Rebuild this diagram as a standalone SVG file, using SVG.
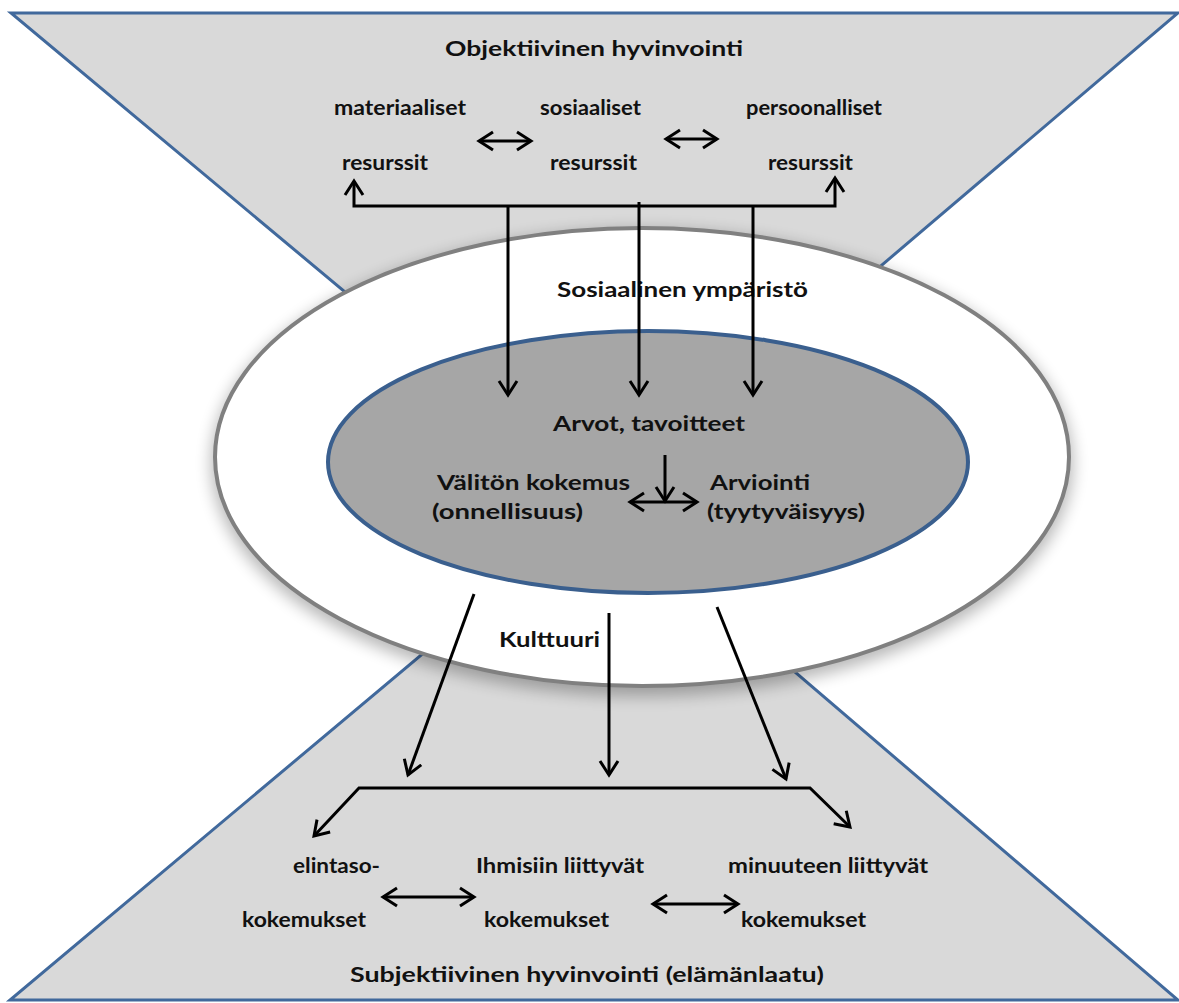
<svg xmlns="http://www.w3.org/2000/svg" width="1179" height="1003" viewBox="0 0 1179 1003">
<style>
.t{font-family:Lato,"Open Sans","Liberation Sans",sans-serif;font-weight:bold;font-size:21px;fill:#111}
.c{stroke:#000;stroke-width:3;fill:none}
.tri{fill:#d9d9d9;stroke:#41699c;stroke-width:3;stroke-linejoin:miter}
</style>
<defs>
<marker id="ah" markerUnits="userSpaceOnUse" markerWidth="18" markerHeight="22" viewBox="0 0 18 22" refX="15" refY="11" orient="auto-start-reverse">
<path d="M1,2 L15,11 L1,20" fill="none" stroke="#000" stroke-width="3"/>
</marker>
<filter id="sh" x="-20%" y="-20%" width="140%" height="140%">
<feGaussianBlur stdDeviation="8"/>
</filter>
</defs>

<g id="objective-region">
<polygon class="tri" points="11,13 1178,13 600,505"/>
<text class="t" x="445" y="56" textLength="298" lengthAdjust="spacingAndGlyphs">Objektiivinen hyvinvointi</text>
</g>
<g id="subjective-region">
<polygon class="tri" points="10,1000 1178,1000 600,505"/>
</g>

<g id="social-environment">
<ellipse cx="642" cy="463" rx="431" ry="233" fill="#000" opacity="0.28" filter="url(#sh)"/>
<ellipse cx="642" cy="457" rx="427" ry="229" fill="#fff" stroke="#808080" stroke-width="4"/>
<text class="t" x="557" y="297" textLength="251" lengthAdjust="spacingAndGlyphs">Sosiaalinen ympäristö</text>
<text class="t" x="499" y="647" textLength="101" lengthAdjust="spacingAndGlyphs">Kulttuuri</text>
</g>

<g id="values-goals">
<ellipse cx="648" cy="462" rx="320" ry="131" fill="#a6a6a6" stroke="#3a5f8e" stroke-width="4"/>
<text class="t" x="553" y="431" textLength="192" lengthAdjust="spacingAndGlyphs">Arvot, tavoitteet</text>
</g>
<g id="immediate-experience">
<text class="t" x="437" y="490" textLength="193" lengthAdjust="spacingAndGlyphs">Välitön kokemus</text>
<text class="t" x="432" y="519" textLength="151" lengthAdjust="spacingAndGlyphs">(onnellisuus)</text>
</g>
<g id="evaluation">
<text class="t" x="710" y="490" textLength="100" lengthAdjust="spacingAndGlyphs">Arviointi</text>
<text class="t" x="707" y="519" textLength="158" lengthAdjust="spacingAndGlyphs">(tyytyväisyys)</text>
</g>

<g id="material-resources">
<text class="t" x="334" y="115" textLength="132" lengthAdjust="spacingAndGlyphs">materiaaliset</text>
<text class="t" x="342" y="170" textLength="86" lengthAdjust="spacingAndGlyphs">resurssit</text>
</g>
<g id="social-resources">
<text class="t" x="540" y="115" textLength="101" lengthAdjust="spacingAndGlyphs">sosiaaliset</text>
<text class="t" x="550" y="170" textLength="87" lengthAdjust="spacingAndGlyphs">resurssit</text>
</g>
<g id="personal-resources">
<text class="t" x="746" y="115" textLength="136" lengthAdjust="spacingAndGlyphs">persoonalliset</text>
<text class="t" x="768" y="170" textLength="85" lengthAdjust="spacingAndGlyphs">resurssit</text>
</g>

<g id="living-standard-experiences">
<text class="t" x="293" y="873" textLength="87" lengthAdjust="spacingAndGlyphs">elintaso-</text>
<text class="t" x="242" y="927" textLength="124" lengthAdjust="spacingAndGlyphs">kokemukset</text>
</g>
<g id="people-experiences">
<text class="t" x="476" y="873" textLength="168" lengthAdjust="spacingAndGlyphs">Ihmisiin liittyvät</text>
<text class="t" x="484" y="927" textLength="125" lengthAdjust="spacingAndGlyphs">kokemukset</text>
</g>
<g id="self-experiences">
<text class="t" x="728" y="873" textLength="200" lengthAdjust="spacingAndGlyphs">minuuteen liittyvät</text>
<text class="t" x="741" y="927" textLength="125" lengthAdjust="spacingAndGlyphs">kokemukset</text>
</g>
<g id="subjective-title">
<text class="t" x="350" y="982" textLength="474" lengthAdjust="spacingAndGlyphs">Subjektiivinen hyvinvointi (elämänlaatu)</text>
</g>

<g id="connectors">
<line class="c" x1="479" y1="141" x2="531" y2="141" marker-start="url(#ah)" marker-end="url(#ah)"/>
<line class="c" x1="666" y1="139" x2="717" y2="139" marker-start="url(#ah)" marker-end="url(#ah)"/>
<path class="c" d="M354,181 L354,206 L835,206 L835,178" marker-start="url(#ah)" marker-end="url(#ah)"/>
<line class="c" x1="508" y1="206" x2="508" y2="395" marker-end="url(#ah)"/>
<line class="c" x1="639" y1="202" x2="639" y2="395" marker-end="url(#ah)"/>
<line class="c" x1="753" y1="206" x2="753" y2="395" marker-end="url(#ah)"/>
<line class="c" x1="665" y1="455" x2="665" y2="501" marker-end="url(#ah)"/>
<line class="c" x1="630" y1="502" x2="697" y2="502" marker-start="url(#ah)" marker-end="url(#ah)"/>
<line class="c" x1="474" y1="594" x2="408" y2="775" marker-end="url(#ah)"/>
<line class="c" x1="609" y1="613" x2="609" y2="775" marker-end="url(#ah)"/>
<line class="c" x1="717" y1="607" x2="786" y2="779" marker-end="url(#ah)"/>
<path class="c" d="M314,836 L359,788 L810,788 L850,827" marker-start="url(#ah)" marker-end="url(#ah)"/>
<line class="c" x1="383" y1="897" x2="474" y2="897" marker-start="url(#ah)" marker-end="url(#ah)"/>
<line class="c" x1="653" y1="904" x2="738" y2="904" marker-start="url(#ah)" marker-end="url(#ah)"/>
</g>
</svg>
